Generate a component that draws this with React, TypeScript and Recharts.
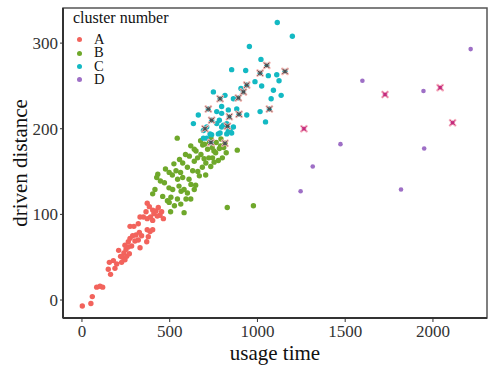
import { ScatterChart, Scatter, XAxis, YAxis, ReferenceArea } from "recharts";

type Pt = [number, number];

const serif = '"Liberation Serif", "Times New Roman", serif';

const clusterNames = ["A", "B", "C", "D"];
const clusterColors = ["#f2635c", "#6fa82b", "#13b9c3", "#9e6fc6"];

const clusterA: Pt[] = [
  [2, -7], [51, -4], [59, 4], [84, 15], [103, 16], [118, 15], [163, 30], [150, 36],
  [156, 44], [179, 46], [188, 37], [209, 58], [230, 50], [245, 47], [255, 51], [239, 55],
  [251, 59], [264, 62], [245, 64], [264, 68], [274, 72], [289, 75], [308, 76], [331, 61],
  [321, 70], [340, 75], [327, 79], [274, 86], [296, 86], [321, 89], [369, 68], [378, 74],
  [388, 80], [372, 82], [403, 82], [331, 97], [350, 97], [372, 95], [391, 97], [403, 93],
  [410, 101], [422, 104], [435, 108], [372, 113], [384, 109], [403, 105], [445, 99], [464, 95],
  [454, 103], [283, 63], [220, 51], [198, 42], [226, 44], [270, 54], [302, 69], [365, 103],
  [429, 98],
];

const clusterB: Pt[] = [
  [543, 189], [828, 108], [977, 110], [885, 175], [815, 183], [416, 129], [403, 124], [426, 143],
  [470, 137], [515, 146], [536, 151], [562, 149], [574, 160], [601, 155], [612, 168], [640, 162],
  [650, 174], [678, 170], [688, 181], [716, 176], [726, 184], [762, 172], [783, 177], [777, 163],
  [744, 166], [706, 160], [686, 155], [660, 150], [631, 151], [610, 141], [574, 143], [553, 133],
  [517, 129], [496, 131], [460, 121], [487, 116], [507, 120], [544, 118], [565, 127], [601, 125],
  [621, 135], [648, 134], [669, 145], [705, 146], [734, 156], [753, 161], [800, 166], [808, 178],
  [752, 174], [696, 165], [659, 166], [556, 164], [590, 170], [620, 180], [640, 176], [676, 186],
  [698, 182], [735, 189], [563, 112], [527, 110], [497, 114], [582, 102], [505, 103], [447, 139],
  [432, 147], [593, 118], [620, 118], [640, 129], [582, 129], [545, 141], [524, 159], [497, 149],
  [476, 153], [742, 178], [765, 184], [792, 188], [723, 166], [790, 180], [822, 172],
];

const clusterC: Pt[] = [
  [1113, 324], [1199, 308], [954, 296], [1020, 281], [1053, 274], [1015, 265], [1157, 267], [853, 269],
  [933, 268], [1062, 262], [1110, 263], [1123, 256], [986, 255], [939, 251], [906, 247], [920, 243],
  [1024, 250], [749, 243], [815, 239], [787, 235], [863, 235], [891, 236], [1091, 245], [1135, 239],
  [1078, 235], [1068, 223], [1015, 220], [1046, 208], [720, 223], [768, 220], [796, 226], [796, 218],
  [834, 222], [882, 223], [895, 217], [939, 216], [840, 214], [663, 216], [739, 210], [783, 210],
  [806, 204], [829, 203], [863, 202], [834, 197], [635, 206], [701, 200], [692, 189], [739, 193],
  [787, 195], [853, 195], [692, 198], [711, 202], [768, 206], [796, 202], [825, 206], [730, 194],
  [777, 194], [825, 194], [844, 198], [711, 189], [735, 184],
];

const clusterD: Pt[] = [
  [2215, 293], [1598, 256], [1946, 244], [1727, 240], [2041, 248], [2112, 207], [1265, 200],
  [1473, 182], [1950, 177], [1315, 156], [1246, 127], [1818, 129],
];

// points flagged with a cross
const crossedDark: Pt[] = [
  [1053, 274], [1015, 265], [1157, 267], [939, 251], [920, 243], [787, 235], [891, 236], [1068, 223],
  [720, 223], [895, 217], [840, 214], [739, 210], [829, 203], [701, 200], [735, 184], [815, 183],
];
const crossedPink: Pt[] = [[1727, 240], [2041, 248], [2112, 207], [1265, 200]];

const xTicks = [0, 500, 1000, 1500, 2000];
const yTicks = [0, 100, 200, 300];
const xDomain: [number, number] = [-108, 2308];
const yDomain: [number, number] = [-21, 341];

const clusters = [clusterA, clusterB, clusterC, clusterD];
const toRows = (pts: Pt[]) => pts.map(([x, y]) => ({ x, y }));

const dot = (color: string, r: number) => (p: any) => (
  <circle cx={p.cx} cy={p.cy} r={r} fill={color} />
);

const cross = (halo: string, core: string) => (p: any) => {
  const s = 2.6;
  const d = `M${p.cx - s},${p.cy - s}L${p.cx + s},${p.cy + s}M${p.cx - s},${p.cy + s}L${p.cx + s},${p.cy - s}`;
  return (
    <g>
      <path d={d} stroke={halo} strokeWidth={2.6} strokeLinecap="round" fill="none" />
      <rect x={p.cx - 1.6} y={p.cy - 1.6} width={3.2} height={3.2} fill={core} />
      <path d={d} stroke={core} strokeWidth={1} fill="none" />
    </g>
  );
};

const tickStyle = { fill: "#333", fontSize: 17, fontFamily: serif };

export default function App() {
  return (
    <div style={{ position: "absolute", left: 0, top: 0, width: 489, height: 366, background: "#fff" }}>
      <ScatterChart width={489} height={366} margin={{ top: 8, right: 2, bottom: 0, left: 0 }}>
        <XAxis
          type="number"
          dataKey="x"
          domain={xDomain}
          ticks={xTicks}
          allowDataOverflow
          height={48}
          tickSize={4}
          tickMargin={3}
          tick={tickStyle}
          tickLine={{ stroke: "#333" }}
          axisLine={{ stroke: "#333", strokeWidth: 2 }}
          label={{ value: "usage time", position: "insideBottom", offset: 6, fill: "#111", fontSize: 21, fontFamily: serif }}
        />
        <YAxis
          type="number"
          dataKey="y"
          domain={yDomain}
          ticks={yTicks}
          allowDataOverflow
          width={63}
          tickSize={3}
          tickMargin={2}
          tick={tickStyle}
          tickLine={{ stroke: "#333" }}
          axisLine={{ stroke: "#333", strokeWidth: 2 }}
          label={(props: any) => {
            const vb = props.viewBox;
            const cx = vb.x + 27;
            const cy = vb.y + vb.height / 2;
            return (
              <text
                x={cx}
                y={cy}
                transform={`rotate(-90 ${cx} ${cy})`}
                textAnchor="middle"
                fill="#111"
                fontSize={21}
                fontFamily={serif}
              >
                driven distance
              </text>
            );
          }}
        />
        <ReferenceArea
          x1={xDomain[0]}
          x2={xDomain[1]}
          y1={yDomain[0]}
          y2={yDomain[1]}
          fill="none"
          stroke="#555"
          strokeWidth={1.5}
        />
        {clusters.map((pts, i) => (
          <Scatter
            key={clusterNames[i]}
            name={clusterNames[i]}
            data={toRows(pts)}
            shape={dot(clusterColors[i], i === 3 ? 2.3 : 2.7)}
            isAnimationActive={false}
          />
        ))}
        <Scatter data={toRows(crossedDark)} shape={cross("#f6b4b0", "#465254")} isAnimationActive={false} />
        <Scatter data={toRows(crossedPink)} shape={cross("#f7b0c0", "#c42a7c")} isAnimationActive={false} />
      </ScatterChart>
      <div style={{ position: "absolute", left: 73, top: 9, fontFamily: serif, color: "#111" }}>
        <div style={{ fontSize: 16, lineHeight: "18px" }}>cluster number</div>
        <div style={{ marginTop: 6 }}>
          {clusterNames.map((n, i) => (
            <div key={n} style={{ display: "flex", alignItems: "center", height: 13.4, fontSize: 14.5 }}>
              <span
                style={{
                  display: "inline-block",
                  width: 5,
                  height: 5,
                  borderRadius: "50%",
                  background: clusterColors[i],
                  marginLeft: 4,
                }}
              />
              <span style={{ marginLeft: 12, lineHeight: "13.4px" }}>{n}</span>
            </div>
          ))}
        </div>
      </div>
    </div>
  );
}
